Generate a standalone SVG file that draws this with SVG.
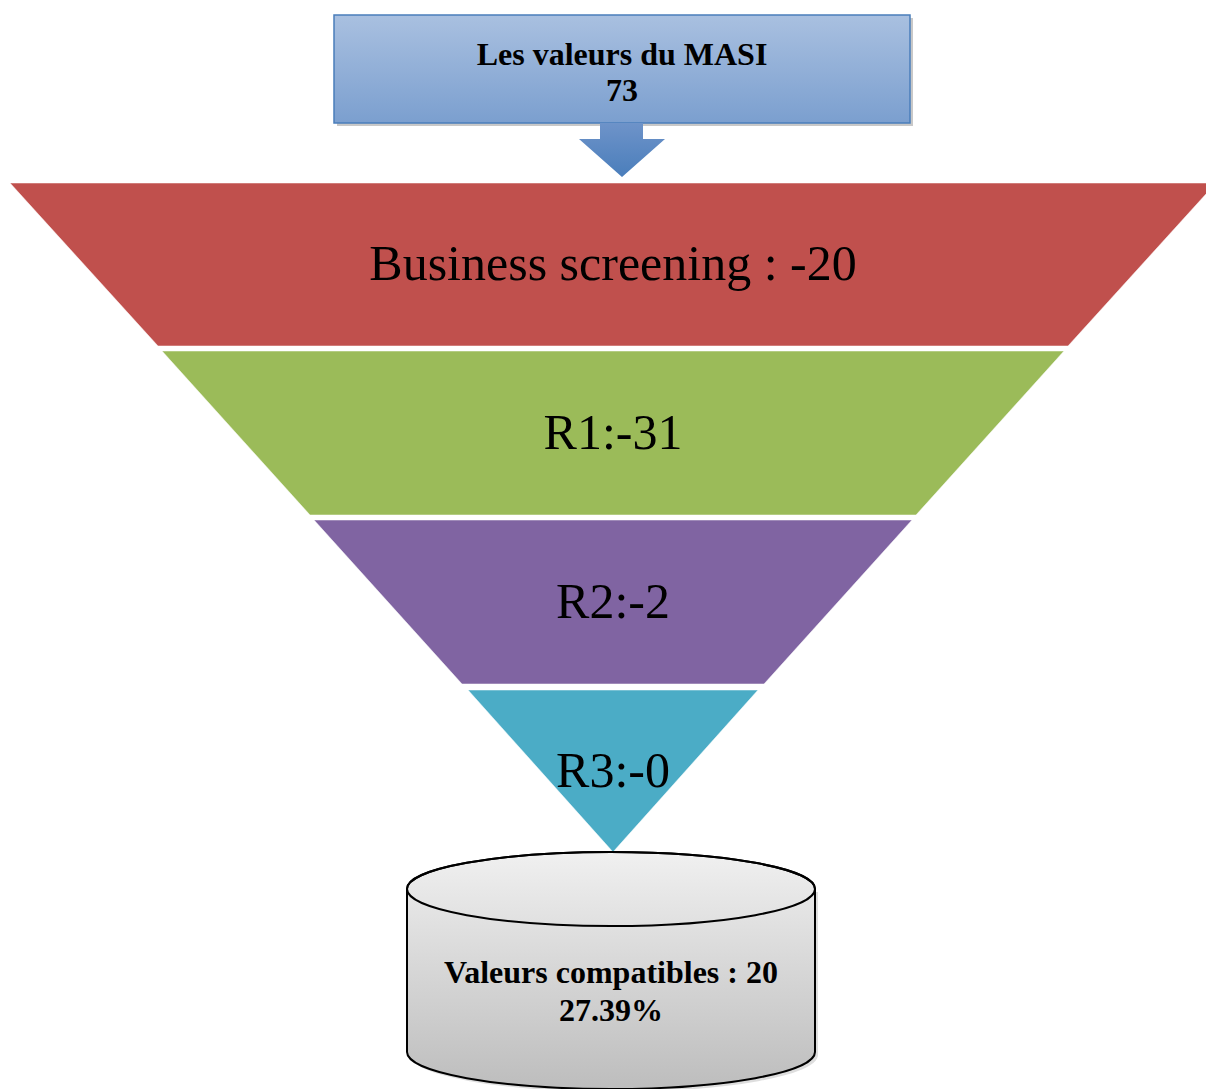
<svg xmlns="http://www.w3.org/2000/svg" width="1206" height="1089" viewBox="0 0 1206 1089">
<style>
.band{stroke:#ffffff;stroke-opacity:0.5;stroke-width:1}
.lbl{font-family:"Liberation Serif","DejaVu Serif",serif;font-size:50px;fill:#000;text-anchor:middle}
.bold{font-family:"Liberation Serif","DejaVu Serif",serif;font-weight:bold;fill:#000;text-anchor:middle}
</style>
<defs>
<linearGradient id="gBox" x1="0" y1="0" x2="0" y2="1">
<stop offset="0" stop-color="#a9c0e0"/>
<stop offset="1" stop-color="#7b9fcf"/>
</linearGradient>
<linearGradient id="gArrow" x1="0" y1="0" x2="0" y2="1">
<stop offset="0" stop-color="#6e93c9"/>
<stop offset="1" stop-color="#4a7ebb"/>
</linearGradient>
<linearGradient id="gCyl" x1="0" y1="0" x2="0" y2="1">
<stop offset="0" stop-color="#f0f0f0"/>
<stop offset="1" stop-color="#bdbdbd"/>
</linearGradient>
</defs>
<rect width="1206" height="1089" fill="#ffffff"/>

<g id="source">
<rect x="337" y="18" width="576" height="108" fill="#c8c8c8"/>
<rect x="334" y="15" width="576" height="108" fill="url(#gBox)" stroke="#4a7ebb" stroke-width="1.5"/>
<text class="bold" x="622" y="65" font-size="32">Les valeurs du MASI</text>
<text class="bold" x="622" y="101" font-size="32">73</text>
</g>

<g id="connectors">
<path d="M600,123 L643,123 L643,139 L665,139 L622,177 L579,139 L600,139 Z" fill="url(#gArrow)"/>
</g>

<g id="business-screening">
<polygon class="band" points="10,183 1216,183 1068,346 158,346" fill="#c0504d"/>
<text class="lbl" x="613" y="280">Business screening : -20</text>
</g>

<g id="r1">
<polygon class="band" points="162,351 1064,351 916,515 310,515" fill="#9bbb59"/>
<text class="lbl" x="613" y="449">R1:-31</text>
</g>

<g id="r2">
<polygon class="band" points="314,520 912,520 764,684 462,684" fill="#8064a2"/>
<text class="lbl" x="613" y="618">R2:-2</text>
</g>

<g id="r3">
<polygon class="band" points="468,690 758,690 613,852" fill="#4bacc6"/>
<text class="lbl" x="613" y="787">R3:-0</text>
</g>

<g id="result">
<path d="M410,892 L410,1055 A204,37 0 0 0 818,1055 L818,892 Z" fill="#c8c8c8" opacity="0.6"/>
<path d="M407,889 L407,1052 A204,37 0 0 0 815,1052 L815,889 A204,37 0 0 0 407,889 Z" fill="url(#gCyl)" stroke="#000" stroke-width="2"/>
<ellipse cx="611" cy="889" rx="204" ry="37" fill="none" stroke="#000" stroke-width="2"/>
<text class="bold" x="611" y="983" font-size="32">Valeurs compatibles : 20</text>
<text class="bold" x="611" y="1021" font-size="32">27.39%</text>
</g>
</svg>
